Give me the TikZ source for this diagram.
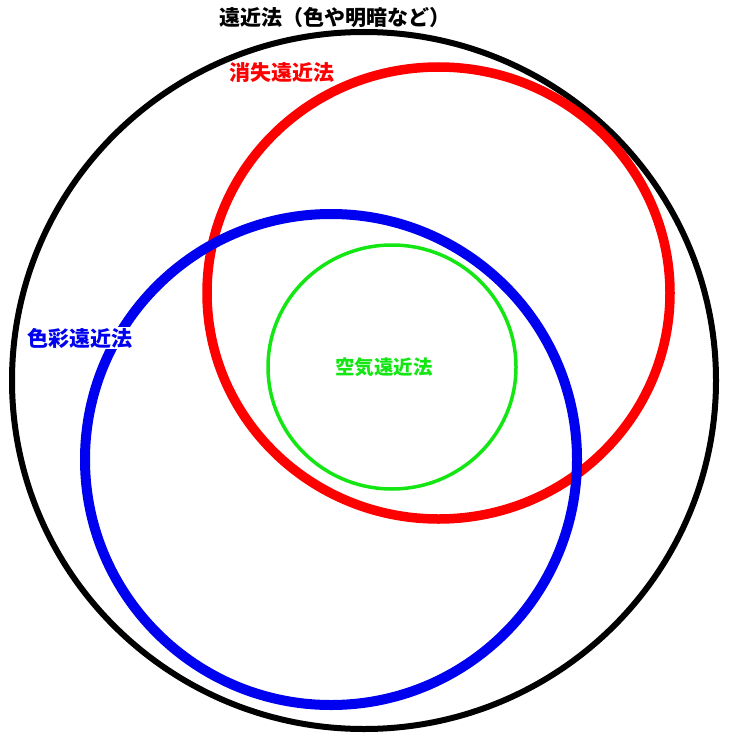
\documentclass[tikz,border=0pt]{standalone}
\usepackage{fontspec}
\newfontfamily\cjk{Noto Sans CJK JP}
\definecolor{cred}{RGB}{255,0,0}
\definecolor{cblue}{RGB}{0,0,240}
\definecolor{cgreen}{RGB}{20,230,20}
\begin{document}
\begin{tikzpicture}[x=1pt,y=-1pt,
  lbl/.style={font=\cjk\bfseries\fontsize{21}{23}\selectfont, inner sep=1pt},
  ring/.style={line width=#1}]
\useasboundingbox (0,0) rectangle (729,741);
\draw[ring=6pt, black] (364,380.5) ellipse [x radius=352, y radius=348.5];
\draw[ring=9.5pt, cred] (438.5,293) ellipse [x radius=231.5, y radius=226];
\draw[ring=3.5pt, cgreen] (392,367) ellipse [x radius=124, y radius=122];
\draw[ring=10pt, cblue] (331,459.5) ellipse [x radius=246, y radius=245.5];
\node[lbl, text=black] (title) at (335,18) {遠近法（色や明暗など）};
\node[lbl, text=cred] (vanish) at (282,73) {消失遠近法};
\node[lbl, text=cblue, fill=white] (color) at (80,338) {色彩遠近法};
\node[lbl, text=cgreen, font=\cjk\bfseries\fontsize{19.5}{21}\selectfont] (air) at (384,367) {空気遠近法};
\end{tikzpicture}
\end{document}
